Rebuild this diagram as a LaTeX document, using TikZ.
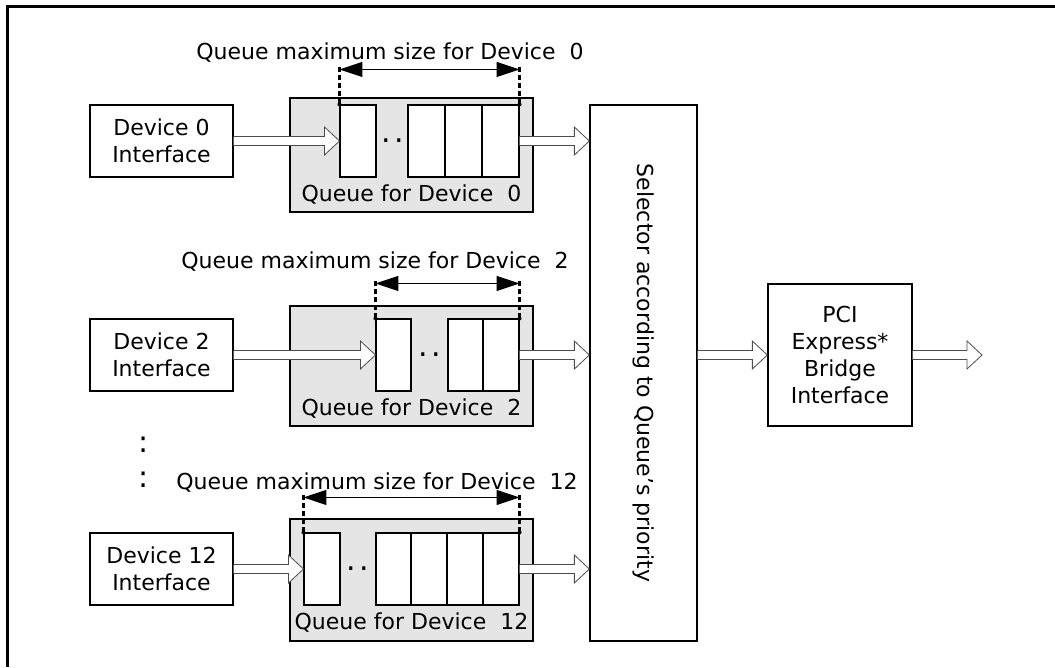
\documentclass[tikz,border=0pt]{standalone}
\usepackage{fontspec}
\setmainfont{DejaVu Sans}
\usetikzlibrary{arrows.meta,calc}
\tikzset{
  box/.style={draw=black, line width=1.3pt, fill=white, inner sep=0pt, align=center, font=\fontsize{22}{27}\selectfont},
  qbox/.style={draw=black, line width=1.3pt, fill=gray!20, inner sep=0pt, minimum width=243pt},
  cell/.style={draw=black, line width=1.1pt, fill=white, minimum width=#1, minimum height=72pt, inner sep=0pt},
  lbl/.style={font=\fontsize{22}{27}\selectfont, inner sep=0pt},
  dotlbl/.style={font=\fontsize{30}{30}\selectfont, inner sep=0pt},
  dimline/.style={line width=1pt, {Triangle[length=23pt,width=15pt]}-{Triangle[length=23pt,width=15pt]}},
  guide/.style={line width=2.6pt, dash pattern=on 5pt off 3pt},
  harr/.style={draw=black!70, line width=0.8pt, fill=white},
}
\newcommand\harrow[2]{\path[harr] let \p1=#1, \p2=#2 in
  (\x1,\y1+4.5pt) -- (\x2-15pt,\y1+4.5pt) -- (\x2-15pt,\y1+14pt) -- (\x2,\y1)
  -- (\x2-15pt,\y1-14pt) -- (\x2-15pt,\y1-4.5pt) -- (\x1,\y1-4.5pt);}
\newcommand\qguides[2]{%
  \draw[guide] (#1.north west) -- ($(#1.north west)+(0,-37)$);
  \draw[guide] (#2.north east) -- ($(#2.north east)+(0,-37)$);
  \fill (#1.north west) circle (2pt);
  \fill (#2.north east) circle (2pt);
  \draw[dimline] ($(#1.north west)+(0,-35)$) -- ($(#2.north east)+(0,-35)$);}
\begin{document}
\begin{tikzpicture}[x=1pt,y=-1pt]
\useasboundingbox (0,0) rectangle (1055,667);
\draw[line width=3pt] (7,667) -- (7,6) -- (1055,6);

% ---------- Row 0 ----------
\node[box, minimum width=143pt, minimum height=72pt] (d0) at (161.5,141) {Device 0\\Interface};
\node[qbox, minimum height=114pt] (g0) at (411.5,155) {};
\node[cell=36pt] (q0a) at (358,141) {};
\node[cell=37pt] (q0b) at (426.5,141) {};
\node[cell=37pt] (q0c) at (463.5,141) {};
\node[cell=37pt] (q0d) at (500.5,141) {};
\node[dotlbl] (q0dots) at (393,141) {.\kern3pt.};
\node[lbl] (q0lab) at (411.5,194.5) {Queue for Device\ \ 0};
\node[lbl] (q0max) at (390,53) {Queue maximum size for Device\ \ 0};
\qguides{q0a}{q0d}

% ---------- Row 2 ----------
\node[box, minimum width=143pt, minimum height=72pt] (d2) at (161.5,355) {Device 2\\Interface};
\node[qbox, minimum height=120pt] (g2) at (411.5,366) {};
\node[cell=35pt] (q2a) at (393.5,355) {};
\node[cell=35pt] (q2b) at (465.5,355) {};
\node[cell=36pt] (q2c) at (501,355) {};
\node[dotlbl] (q2dots) at (430,355) {.\kern3pt.};
\node[lbl] (q2lab) at (411.5,408.5) {Queue for Device\ \ 2};
\node[lbl] (q2max) at (375,262) {Queue maximum size for Device\ \ 2};
\qguides{q2a}{q2c}

% ---------- vertical ellipsis ----------
\node[dotlbl] (vd1) at (144,444.5) {:};
\node[dotlbl] (vd2) at (144,480) {:};

% ---------- Row 12 ----------
\node[box, minimum width=143pt, minimum height=72pt] (d12) at (161.5,569) {Device 12\\Interface};
\node[qbox, minimum height=122pt] (g12) at (411.5,580) {};
\node[cell=36pt] (q12a) at (322,569) {};
\node[cell=35pt] (q12b) at (393.5,569) {};
\node[cell=36pt] (q12c) at (429,569) {};
\node[cell=36pt] (q12d) at (465,569) {};
\node[cell=36pt] (q12e) at (501,569) {};
\node[dotlbl] (q12dots) at (358,569) {.\kern3pt.};
\node[lbl] (q12lab) at (411.5,623) {Queue for Device\ \ 12};
\node[lbl] (q12max) at (377,483) {Queue maximum size for Device\ \ 12};
\qguides{q12a}{q12e}

% ---------- Selector and bridge ----------
\node[box, minimum width=107pt, minimum height=536pt] (sel) at (643.5,373) {};
\node[lbl, rotate=-90] (seltext) at (sel.center) {Selector according to Queue’s priority};
\node[box, minimum width=144pt, minimum height=142pt] (pci) at (840,355) {PCI\\Express*\\Bridge\\Interface};
\coordinate (out) at (982,355);

% ---------- hollow arrows ----------
\harrow{(d0.east)}{(q0a.west)}
\harrow{(q0d.east)}{(q0d.east -| sel.west)}
\harrow{(d2.east)}{(q2a.west)}
\harrow{(q2c.east)}{(q2c.east -| sel.west)}
\harrow{(d12.east)}{(q12a.west)}
\harrow{(q12e.east)}{(q12e.east -| sel.west)}
\harrow{(sel.east |- pci.west)}{(pci.west)}
\harrow{(pci.east)}{(out)}
\end{tikzpicture}
\end{document}
